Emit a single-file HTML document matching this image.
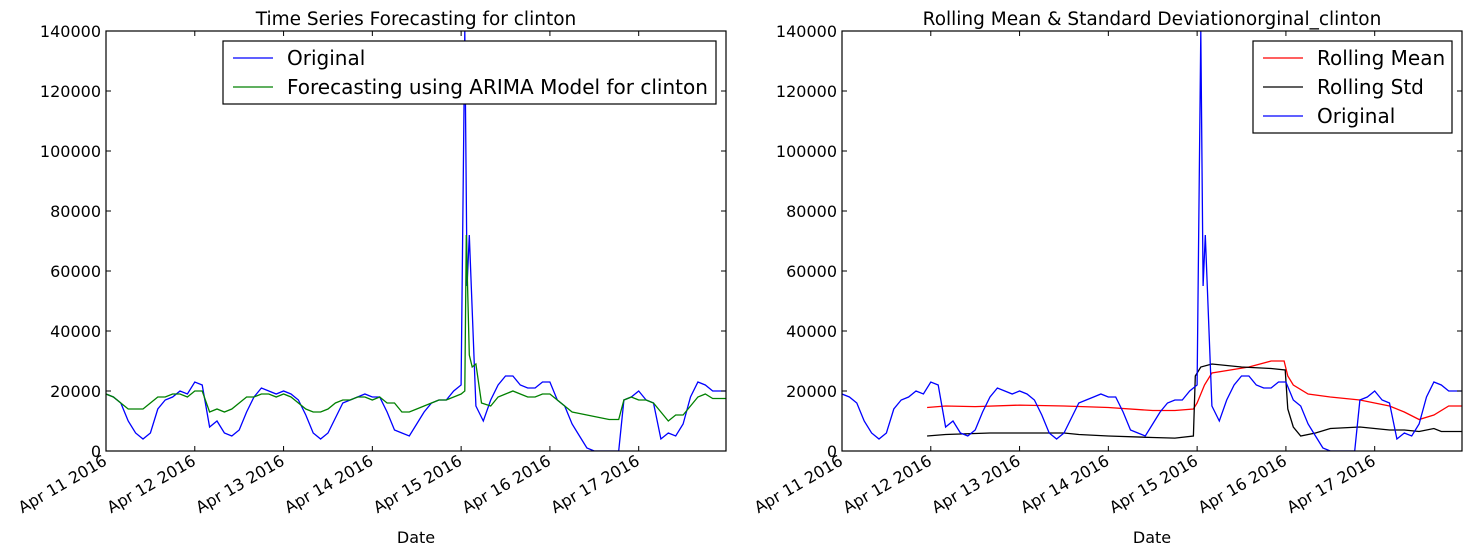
<!DOCTYPE html>
<html><head><meta charset="utf-8"><style>
body{margin:0;background:#fff;}
svg{display:block;font-family:"DejaVu Sans","Liberation Sans",sans-serif;}
</style></head><body>
<svg id="chart" width="1472" height="553"></svg>
<script>
const hoursOrig = [0,2,4,6,8,10,12,14,16,18,20,22,24,26,28,30,32,34,36,38,40,42,44,46,48,50,52,54,56,58,60,62,64,66,68,70,72,74,76,78,80,82,84,86,88,90,92,94,96,97,97.6,98.2,100,102,104,106,108,110,112,114,116,118,120,122,124,126,128,130,132,134,136,138.6,140,142,144,146,148,150,152,154,156,158,160,162,164,166,168];
const original = [19,18,16,10,6,4,6,14,17,18,20,19,23,22,8,10,6,5,7,13,18,21,20,19,20,19,17,12,6,4,6,11,16,17,18,19,18,18,13,7,6,5,9,13,16,17,17,20,22,140,55,72,15,10,17,22,25,25,22,21,21,23,23,17,15,9,5,1,0,0,0,0,17,18,20,17,16,4,6,5,9,18,23,22,20,20,20];
const hoursFc = [0,2,4,6,8,10,12,14,16,18,20,22,24,26,28,30,32,34,36,38,40,42,44,46,48,50,52,54,56,58,60,62,64,66,68,70,72,74,76,78,80,82,84,86,88,90,92,94,96,97,97.4,98.2,99,100,101.5,104,106,108,110,112,114,116,118,120,122,124,126,128,130,132,134,136,138.6,140,142,144,146,148,150,152,154,156,158,160,162,164,166,168];
const forecast = [19,18,16,14,14,14,16,18,18,19,19,18,20,20,13,14,13,14,16,18,18,19,19,18,19,18,16,14,13,13,14,16,17,17,18,18,17,18,16,16,13,13,14,15,16,17,17,18,19,20,72,32,28,29,16,15,18,19,20,19,18,18,19,19,17,15,13,12.5,12,11.5,11,10.5,10.5,17,18,17,17,16,13,10,12,12,15,18,19,17.5,17.5,17.5];
const meanHours = [23,28,36,48,60,72,84,90,95,96,98,100,110,116,119.5,120.5,122,126,132,140,144,148,152,156,160,164,168];
const rollMean = [14.5,15,14.8,15.3,15,14.5,13.5,13.5,14,16,22,26,28,30,30,25,22,19,18,17,16,15,13,10.5,12,15,15];
const stdHours = [23,28,40,60,64,72,84,90,95,95.5,97,100,108,116,119.8,120.5,122,124,128,132,140,148,152,156,160,162,168];
const rollStd = [5,5.5,6,6,5.5,5,4.5,4.3,5,25,28,29,28,27.5,27,14,8,5,6,7.5,8,7,7,6.5,7.5,6.5,6.5];
const yTicks = [0,20000,40000,60000,80000,100000,120000,140000];
const xTickDays = ["Apr 11 2016","Apr 12 2016","Apr 13 2016","Apr 14 2016","Apr 15 2016","Apr 16 2016","Apr 17 2016"];

const NS="http://www.w3.org/2000/svg";
const svg=document.getElementById('chart');
function mk(tag,attrs,parent,text){const e=document.createElementNS(NS,tag);for(const k in attrs)e.setAttribute(k,attrs[k]);if(text!==undefined)e.textContent=text;(parent||svg).appendChild(e);return e;}

const T=31,B=451,W=620,HMAX=167.6;
function panel(x0,title,idx){
  const g=mk('g',{});
  
  
  const xs=h=>x0+h/HMAX*W;
  const ys=v=>B-v*1000/140000*(B-T);
  const cp=mk('clipPath',{id:'cp'+idx},g);
  mk('rect',{x:x0,y:T,width:W,height:B-T},cp);
  const series=mk('g',{'clip-path':'url(#cp'+idx+')'},g);
  function line(hs,vs,color,name){
    const d=hs.map((h,i)=>(i?'L':'M')+xs(h).toFixed(1)+','+ys(vs[i]).toFixed(1)).join('');
    const p=mk('path',{d:d,fill:'none',stroke:color,'stroke-width':1.3},series);
    
    
  }
  if(idx===1){line(hoursOrig,original,'#0000ff','original-line');line(hoursFc,forecast,'#008000','forecast-line');}
  else{line(meanHours,rollMean,'#ff0000','rolling-mean-line');line(stdHours,rollStd,'#000000','rolling-std-line');line(hoursOrig,original,'#0000ff','original-line');}
  mk('rect',{x:x0,y:T,width:W,height:B-T,fill:'none',stroke:'#000','stroke-width':1.2},g);
  yTicks.forEach(v=>{const y=B-v/140000*(B-T);
    mk('line',{x1:x0,x2:x0+5,y1:y,y2:y,stroke:'#000'},g);
    mk('line',{x1:x0+W-5,x2:x0+W,y1:y,y2:y,stroke:'#000'},g);
    const t=mk('text',{x:x0-5,y:y+6,'text-anchor':'end','font-size':16},g,String(v));
    
    });
  xTickDays.forEach((s,i)=>{const x=xs(i*24);
    mk('line',{x1:x,x2:x,y1:B,y2:B-5,stroke:'#000'},g);
    mk('line',{x1:x,x2:x,y1:T,y2:T+5,stroke:'#000'},g);
    const t=mk('text',{x:x+2,y:B+13,'text-anchor':'end','font-size':16,transform:'rotate(-30 '+(x+2)+' '+(B+13)+')'},g,s);
    
    });
  const tt=mk('text',{x:x0+W/2,y:25,'text-anchor':'middle','font-size':18.5},g,title);
  
  
  const xl=mk('text',{x:x0+W/2,y:543,'text-anchor':'middle','font-size':16},g,'Date');
  
  
  return g;
}
panel(106,'Time Series Forecasting for clinton',1);
panel(842,'Rolling Mean & Standard Deviationorginal_clinton',2);

function legend(x,y,w,entries,name){
  const g=mk('g',{});
  
  
  mk('rect',{x:x,y:y,width:w,height:entries.length*29+5,fill:'#fff',stroke:'#000','stroke-width':1.2},g);
  entries.forEach((e,i)=>{const cy=y+17+i*29;
    mk('line',{x1:x+10,x2:x+50,y1:cy,y2:cy,stroke:e[1],'stroke-width':1.3},g);
    const t=mk('text',{x:x+64,y:cy+7,'font-size':20},g,e[0]);
    
    });
}
legend(223,41,493,[['Original','#0000ff'],['Forecasting using ARIMA Model for clinton','#008000']],'legend-left');
legend(1253,41,199,[['Rolling Mean','#ff0000'],['Rolling Std','#000000'],['Original','#0000ff']],'legend-right');
</script>
</body></html>
